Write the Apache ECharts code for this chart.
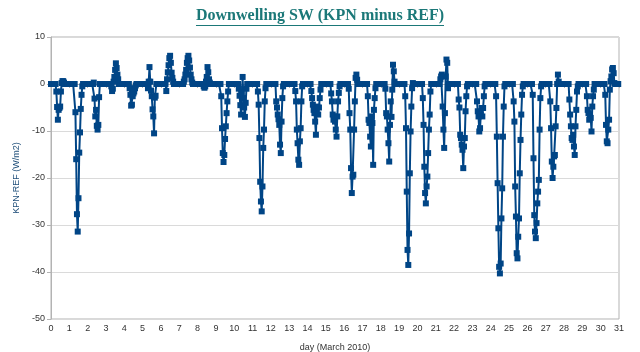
<!DOCTYPE html>
<html>
<head>
<meta charset="utf-8">
<script src="https://cdn.jsdelivr.net/npm/echarts@6/dist/echarts.min.js"></script>
<style>
  html, body { margin: 0; padding: 0; background: #fff; }
  #chart { width: 640px; height: 352px; }
</style>
</head>
<body>
<div id="chart"></div>
<script>
// KPN minus REF downwelling shortwave, one row per day, 24 hourly values (W/m2)
var week1 = [
  [0,0,0,0,0,0,0,-1.6,-4.9,-7.6,-5.5,-5.1,-4.8,-1.6,0.2,0.6,0.6,0.3,0,0,0,0,0,0],
  [0,0,0,0,0,0,0,0,-6,-16,-27.7,-31.4,-24.3,-14.6,-10.3,-5.3,-2.3,-0.5,0,0,0,0,0,0],
  [0,0,0,0,0,0,0,0,0.3,-3.1,-6.9,-5.5,-8.9,-9.7,-8.7,-2.8,0,0,0,0,0,0,0,0],
  [0,0,0,0,0,0,0,-0.5,-1.5,-1,0.5,1.5,3,4.4,3.4,2,1,0,0,0,0,0,0,0],
  [0,0,0,0,0,0,0,-0.9,-2.3,-4.6,-4.4,-2.6,-2,-1.6,-0.9,-0.3,0,0,0,0,0,0,0,0],
  [0,0,0,0,0,0,0,-0.9,0.5,3.6,0.5,-1.4,-2.6,-5.4,-6.9,-10.5,-2.9,-2.5,0,0,0,0,0,0],
  [0,0,0,0,0,0,0,-1.5,1,2.5,4,5.5,6,4.5,2.4,1.3,0.5,0,0,0,0,0,0,0]
]
var week2 = [
  [0,0,0,0,0,0,0.5,1,2,3,4.5,5.5,6,5,3.5,2,1,0.3,0,0,0,0,0,0],
  [0,0,0,0,0,0,0,0,-0.5,-0.8,-0.5,0.5,1.5,3.6,2.5,1,0.3,0,0,0,0,0,0,0],
  [0,0,0,0,0,0,0,-2.6,-9.4,-14.7,-16.6,-15.1,-11.7,-9,-6.2,-3.7,-1.6,0,0,0,0,0,0,0],
  [0,0,0,0,0,0,-1,-2.5,-4.5,-6.5,-2,1.5,-3,-5,-7,-4,-1,0,0,0,0,0,0,0],
  [0,0,0,0,0,0,0,-1.6,-4.4,-11.5,-20.8,-25,-27.1,-21.8,-13.6,-9.7,-3.7,-0.9,0,0,0,0,0,0],
  [0,0,0,0,0,0,0,-3.7,-5,-6.5,-7.5,-8.7,-12.9,-14.7,-8,-3,-0.5,0,0,0,0,0,0,0],
  [0,0,0,0,0,0,0,0,-1.5,-3.7,-9.7,-12.6,-16.1,-17.2,-12.2,-9.4,-3.7,-0.5,0,0,0,0,0,0]
]
var week3 = [
  [0,0,0,0,0,-1.5,-3,-4.4,-5.5,-6.2,-8,-10.8,-5.5,-4.8,-6.5,-5,-3,-1.2,0,0,0,0,0,0],
  [0,0,0,0,0,0,0,-2,-3.7,-6.5,-7.6,-6.9,-8,-9.7,-11.2,-6.9,-3.7,-1.9,-0.5,0,0,0,0,0],
  [0,0,0,0,0,0,-1,-6.2,-9.7,-17.9,-23.2,-19.7,-19.3,-9.7,-3.7,1.3,2,0.9,0,0,0,0,0,0],
  [0,0,0,0,0,0,0,-2.6,-7.6,-8.3,-11.2,-13.3,-6.9,-8.3,-17.2,-5.5,-3,-0.9,0,0,0,0,0,0],
  [0,0,0,0,0,0,-1,-6.2,-6.9,-9.7,-12.6,-16.5,-8.7,-3.7,-7,-1.2,4.1,2.7,0.5,0,0,0,0,0],
  [0,0,0,0,0,0,0,0,-2.6,-9.4,-22.9,-35.3,-38.5,-31.8,-19,-10.1,-4.8,-0.9,0.2,0,0,0,0,0],
  [0,0,0,0,0,0,0,-3,-8.7,-17.6,-23.2,-25.4,-21.8,-19.7,-14.7,-9.7,-6.5,-1.6,0,0,0,0,0,0]
]
var week4 = [
  [0,0,0,0,0,0,1,1.6,2,-4.8,-9.7,-13.6,-6.2,1.6,5.2,4.5,-0.9,0,0,0,0,0,0,0],
  [0,0,0,0,0,0,-3.3,-5,-10.8,-11.5,-12.9,-14,-17.9,-13.3,-11.5,-5.8,-2.6,-0.5,0,0,0,0,0,0],
  [0,0,0,0,0,0,-3.7,-5.8,-6.9,-10.1,-9.4,-6.5,-5.1,-6.9,-5.1,-2.6,-0.5,0,0,0,0,0,0,0],
  [0,0,0,0,0,0,0,-2.6,-11.2,-21.1,-30.7,-38.9,-40.3,-38.2,-28.6,-22.2,-11.2,-4.8,-0.5,0,0,0,0,0],
  [0,0,0,0,0,0,-3.7,-8,-21.8,-28.2,-36,-37.1,-32.5,-28.6,-19,-11.9,-6.5,-2.3,-0.5,0,0,0,0,0],
  [0,0,0,0,0,0,0,-2.3,-15.8,-27.9,-31.4,-32.8,-29.6,-25.4,-22.9,-20.4,-9.7,-3,-0.5,0,0,0,0,0],
  [0,0,0,0,0,0,-3.7,-9.4,-16.5,-20,-17.6,-15.4,-15.1,-9,-5.1,0,2,0.5,0,0,0,0,0,0]
]
var week5 = [
  [0,0,0,0,0,0,0,-3.3,-6.5,-9,-11.5,-11.9,-10.8,-13.3,-15.1,-9,-5.5,-1.6,-0.5,0,0,0,0,0],
  [0,0,0,0,0,0,-2.6,-5.5,-6.2,-7.6,-6.5,-7.2,-10.1,-4.8,-2.6,-1.2,0,0,0,0,0,0,0,0],
  [0,0,0,0,0,0,-2.3,-8.7,-12.2,-12.6,-9.7,-7.6,-1.2,0.6,1.6,3.1,3.4,2.3,0.2,0,0,0,0,0]
]

var titleText = 'Downwelling SW (KPN minus REF)'
var titleFont = 'bold 16px "Liberation Serif"'

var allDays = week1.concat(week2, week3, week4, week5)
var seriesData = []
allDays.forEach(function (row, d) {
  row.forEach(function (v, h) {
    seriesData.push([d + h / 24, v])
  })
})

// width of the title, used for the underline
var ctx = document.createElement('canvas').getContext('2d')
ctx.font = titleFont
var titleWidth = ctx.measureText(titleText).width

var chart = echarts.init(document.getElementById('chart'))
chart.setOption({
  animation: false,
  backgroundColor: '#fff',
  title: {
    text: titleText,
    left: 'center',
    top: 8,
    padding: 0,
    textStyle: {
      fontFamily: 'Liberation Serif',
      fontWeight: 'bold',
      fontSize: 16,
      color: '#1b7878'
    }
  },
  graphic: [{
    type: 'line',
    shape: { x1: 320 - titleWidth / 2, y1: 25.5, x2: 320 + titleWidth / 2, y2: 25.5 },
    style: { stroke: '#1b7878', lineWidth: 1 }
  }],
  grid: {
    show: true,
    borderColor: '#b3b3b3',
    borderWidth: 1,
    left: 51,
    right: 21,
    top: 37,
    bottom: 33,
    containLabel: false,
    outerBoundsMode: 'none'
  },
  xAxis: {
    type: 'value',
    min: 0,
    max: 31,
    interval: 1,
    name: 'day (March 2010)',
    nameLocation: 'middle',
    nameGap: 24,
    nameTextStyle: { fontSize: 9, color: '#333', fontFamily: 'Liberation Sans' },
    axisLine: { lineStyle: { color: '#b3b3b3' } },
    axisTick: { length: 4, lineStyle: { color: '#b3b3b3' } },
    axisLabel: { fontSize: 9, color: '#333', margin: 5, fontFamily: 'Liberation Sans' },
    splitLine: { show: false }
  },
  yAxis: {
    type: 'value',
    min: -50,
    max: 10,
    interval: 10,
    name: 'KPN-REF (W/m2)',
    nameLocation: 'middle',
    nameRotate: 90,
    nameGap: 28,
    nameTextStyle: { fontSize: 9, color: '#1f4e79', fontFamily: 'Liberation Sans' },
    axisLine: { show: true, lineStyle: { color: '#b3b3b3' } },
    axisTick: { show: true, length: 4, lineStyle: { color: '#b3b3b3' } },
    axisLabel: { fontSize: 9, color: '#333', margin: 6, fontFamily: 'Liberation Sans' },
    splitLine: { lineStyle: { color: '#dadada' } }
  },
  series: [{
    type: 'line',
    data: seriesData,
    symbol: 'rect',
    symbolSize: 6,
    showAllSymbol: true,
    lineStyle: { width: 2, color: '#004586' },
    itemStyle: { color: '#004586' }
  }]
})
</script>
</body>
</html>
